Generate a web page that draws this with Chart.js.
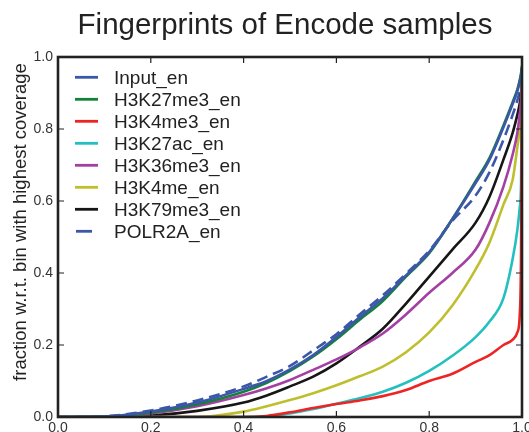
<!DOCTYPE html>
<html>
<head>
<meta charset="utf-8">
<script src="https://cdn.jsdelivr.net/npm/chart.js@4.4.0/dist/chart.umd.min.js"></script>
<style>
  html, body { margin: 0; padding: 0; background: #fff; overflow: hidden; }
</style>
</head>
<body>
<canvas id="fingerprint" width="529" height="432"></canvas>
<script>
// fraction of bins (x) shared by every sample
var fracX = [0, 0.1, 0.2, 0.3, 0.4, 0.45, 0.5, 0.55, 0.6, 0.65, 0.7, 0.75, 0.8, 0.85, 0.9, 0.93, 0.96, 0.98, 0.99, 0.995, 0.998, 1.0];

// cumulative coverage
var inputEn    = [0, 0.001, 0.015, 0.04, 0.078, 0.1, 0.132, 0.172, 0.222, 0.277, 0.33, 0.393, 0.458, 0.55, 0.65, 0.715, 0.805, 0.87, 0.905, 0.93, 0.95, 0.97];
var h3k27me3En = [0, 0.001, 0.012, 0.035, 0.07, 0.095, 0.128, 0.168, 0.216, 0.27, 0.322, 0.39, 0.455, 0.55, 0.655, 0.72, 0.81, 0.875, 0.91, 0.935, 0.955, 0.975];
var h3k4me3En  = [0, 0, 0, 0, 0, 0.003, 0.013, 0.025, 0.036, 0.046, 0.058, 0.075, 0.1, 0.12, 0.153, 0.172, 0.2, 0.215, 0.235, 0.28, 0.46, 0.97];
var h3k27acEn  = [0, 0, 0, 0, 0, 0.001, 0.01, 0.022, 0.037, 0.052, 0.07, 0.095, 0.128, 0.17, 0.222, 0.265, 0.33, 0.44, 0.52, 0.58, 0.65, 0.94];
var h3k36me3En = [0, 0.001, 0.01, 0.03, 0.061, 0.08, 0.103, 0.131, 0.16, 0.193, 0.232, 0.285, 0.345, 0.4, 0.465, 0.54, 0.64, 0.73, 0.79, 0.84, 0.88, 0.95];
var h3k4meEn   = [0, 0, 0, 0, 0.015, 0.03, 0.047, 0.066, 0.088, 0.113, 0.14, 0.18, 0.235, 0.31, 0.41, 0.485, 0.59, 0.66, 0.75, 0.8, 0.86, 0.93];
var h3k79me3En = [0, 0, 0.004, 0.017, 0.04, 0.06, 0.085, 0.112, 0.149, 0.195, 0.245, 0.315, 0.39, 0.465, 0.54, 0.612, 0.715, 0.79, 0.84, 0.87, 0.9, 0.95];
var polr2aEn   = [0, 0.002, 0.018, 0.046, 0.085, 0.112, 0.142, 0.185, 0.23, 0.285, 0.338, 0.398, 0.462, 0.545, 0.615, 0.68, 0.77, 0.84, 0.88, 0.905, 0.93, 0.96];

var seriesNames  = ['Input_en', 'H3K27me3_en', 'H3K4me3_en', 'H3K27ac_en', 'H3K36me3_en', 'H3K4me_en', 'H3K79me3_en', 'POLR2A_en'];
var seriesValues = [inputEn, h3k27me3En, h3k4me3En, h3k27acEn, h3k36me3En, h3k4meEn, h3k79me3En, polr2aEn];
var seriesColors = ['#3b57a8', '#14803b', '#ee2424', '#24c0c0', '#a43fa4', '#bfbf2e', '#161616', '#3b57a8'];
var axisTicks = [0, 0.2, 0.4, 0.6, 0.8, 1.0];

var fontName = '"Liberation Sans", Arial, sans-serif';

var datasets = seriesNames.map(function (name, i) {
  return {
    label: name,
    data: fracX.map(function (x, j) { return { x: x, y: seriesValues[i][j] }; }),
    borderColor: seriesColors[i],
    backgroundColor: seriesColors[i],
    borderWidth: 2.6,
    borderDash: name === 'POLR2A_en' ? [11, 6] : [],
    pointRadius: 0,
    cubicInterpolationMode: 'monotone',
    fill: false
  };
});

// title, y label, frame with inward ticks and the legend inside the plot
var decorations = {
  id: 'decorations',
  afterDatasetsDraw: function (chart) {
    var ctx = chart.ctx;
    var area = chart.chartArea;
    var xs = chart.scales.x, ys = chart.scales.y;
    ctx.save();

    ctx.fillStyle = '#222';
    ctx.font = '29.5px ' + fontName;
    ctx.textAlign = 'center';
    ctx.textBaseline = 'alphabetic';
    ctx.fillText('Fingerprints of Encode samples', 285, 34);

    ctx.save();
    ctx.translate(21, 222);
    ctx.rotate(-Math.PI / 2);
    ctx.font = '18.5px ' + fontName;
    ctx.textBaseline = 'middle';
    ctx.fillText('fraction w.r.t. bin with highest coverage', 0, 0);
    ctx.restore();

    ctx.strokeStyle = '#222';
    ctx.lineWidth = 1.2;
    axisTicks.forEach(function (v) {
      var px = xs.getPixelForValue(v);
      var py = ys.getPixelForValue(v);
      ctx.beginPath();
      ctx.moveTo(px, area.bottom); ctx.lineTo(px, area.bottom - 6);
      ctx.moveTo(px, area.top); ctx.lineTo(px, area.top + 6);
      ctx.moveTo(area.left, py); ctx.lineTo(area.left + 6, py);
      ctx.moveTo(area.right, py); ctx.lineTo(area.right - 6, py);
      ctx.stroke();
    });
    ctx.lineWidth = 2.6;
    ctx.strokeRect(area.left, area.top, area.right - area.left, area.bottom - area.top);

    ctx.font = '19px ' + fontName;
    ctx.textAlign = 'left';
    ctx.textBaseline = 'middle';
    seriesNames.forEach(function (name, i) {
      var y = 77.3 + i * 22;
      ctx.strokeStyle = seriesColors[i];
      ctx.lineWidth = 2.8;
      ctx.beginPath();
      if (name === 'POLR2A_en') { ctx.moveTo(76, y); ctx.lineTo(92, y); }
      else { ctx.moveTo(75, y); ctx.lineTo(98, y); }
      ctx.stroke();
      ctx.fillStyle = '#222';
      ctx.fillText(name, 114, y + 1);
    });
    ctx.restore();
  }
};

new Chart(document.getElementById('fingerprint'), {
  type: 'line',
  data: { datasets: datasets },
  options: {
    responsive: false,
    animation: false,
    layout: { padding: { top: 57, right: 7, left: 0, bottom: 0 } },
    plugins: { legend: { display: false }, tooltip: { enabled: false }, title: { display: false } },
    scales: {
      x: {
        type: 'linear', min: 0, max: 1,
        grid: { display: false, drawTicks: false }, border: { display: false },
        afterBuildTicks: function (s) { s.ticks = axisTicks.map(function (v) { return { value: v }; }); },
        afterFit: function (s) { s.height = 15; s.paddingLeft = 0; s.paddingRight = 0; },
        ticks: {
          maxRotation: 0, padding: 3, color: '#333',
          font: { family: fontName, size: 14 },
          callback: function (v) { return Number(v).toFixed(1); }
        }
      },
      y: {
        type: 'linear', min: 0, max: 1,
        grid: { display: false, drawTicks: false }, border: { display: false },
        afterBuildTicks: function (s) { s.ticks = axisTicks.map(function (v) { return { value: v }; }); },
        afterFit: function (s) { s.width = 58; s.paddingTop = 0; s.paddingBottom = 0; },
        ticks: {
          padding: 5, color: '#333',
          font: { family: fontName, size: 14 },
          callback: function (v) { return Number(v).toFixed(1); }
        }
      }
    }
  },
  plugins: [decorations]
});
</script>
</body>
</html>
